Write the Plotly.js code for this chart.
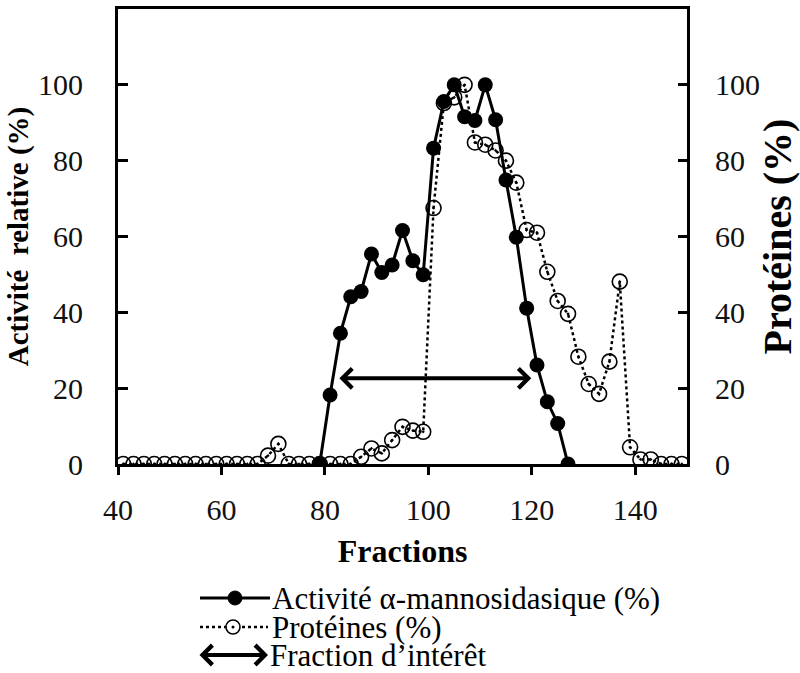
<!DOCTYPE html>
<html><head><meta charset="utf-8">
<script src="https://cdn.plot.ly/plotly-3.0.1.min.js"></script>
<style>html,body{margin:0;padding:0;background:#fff}#chart{width:800px;height:673px}</style>
</head><body><div id="chart"></div>
<script>
// ---- data ----
const proteinFractions = [41,43,45,47,49,51,53,55,57,59,61,63,65,67,69,71,73,75,77,79,81,83,85,87,89,91,93,95,97,99,101,103,105,107,109,111,113,115,117,119,121,123,125,127,129,131,133,135,137,139,141,143,145,147,149];
const proteines = [0,0,0,0,0,0,0,0,0,0,0,0,0,0,2.2,5.3,0,0,0,0,0,0,0,1.9,4.1,2.8,6.3,9.8,8.8,8.5,67.5,95.2,96.7,100,84.8,84.2,82.7,80.0,74.2,61.7,61.0,50.7,43.0,39.6,28.3,21.1,18.5,27.0,48.1,4.4,1.2,1.2,0,0,0];
const activityFractions = [79,81,83,85,87,89,91,93,95,97,99,101,103,105,107,109,111,113,115,117,119,121,123,125,127];
const activite = [0,18.2,34.5,44.1,45.5,55.4,50.5,52.5,61.6,53.6,49.9,83.3,95.6,100,91.6,90.6,100,90.8,74.9,59.8,41.1,26.1,16.4,10.7,0];
const xTicks = [40,60,80,100,120,140];
const yTicks = [0,20,40,60,80,100];
const interestRange = [82.5, 119.9];
const interestLevel = 22.6;
const labels = {
  x: 'Fractions',
  yLeft: 'Activité\u00a0 relative (%)',
  yRight: 'Protéines (%)',
  activity: 'Activité α-mannosidasique (%)',
  protein: 'Protéines (%)',
  interest: 'Fraction d\u2019intérêt'
};

// ---- layout helpers ----
const W = 800, H = 673;
const M = {l: 118, r: 113, t: 9, b: 209};
const PW = W - M.l - M.r, PH = H - M.t - M.b;
const px = x => (x - M.l) / PW;
const py = y => (M.t + PH - y) / PH;
const serif = 'Liberation Serif';

const traces = [
  {
    x: activityFractions, y: activite, name: labels.activity,
    type: 'scatter', mode: 'lines+markers', xaxis: 'x', yaxis: 'y',
    line: {color: '#000', width: 3},
    marker: {color: '#000', size: 15, symbol: 'circle'}
  },
  {
    x: proteinFractions, y: proteines, name: labels.protein,
    type: 'scatter', mode: 'lines+markers', xaxis: 'x', yaxis: 'y2',
    line: {color: '#000', width: 2.5, dash: 'dot'},
    marker: {color: '#000', size: 15, symbol: 'circle-open-dot', line: {color: '#000', width: 1.6}}
  }
];

const tickFont = {family: serif, size: 30, color: '#111'};

const legendY = [598, 627, 655];
const shapes = [
  {type: 'line', xref: 'paper', yref: 'paper', x0: px(200), x1: px(270), y0: py(legendY[0]), y1: py(legendY[0]), line: {color: '#000', width: 3}},
  {type: 'circle', xref: 'paper', yref: 'paper', xsizemode: 'pixel', ysizemode: 'pixel', xanchor: px(235), yanchor: py(legendY[0]), x0: -7, x1: 7, y0: -7, y1: 7, fillcolor: '#000', line: {color: '#000', width: 1}},
  {type: 'line', xref: 'paper', yref: 'paper', x0: px(200), x1: px(268), y0: py(legendY[1]), y1: py(legendY[1]), line: {color: '#000', width: 2.5, dash: 'dot'}},
  {type: 'circle', xref: 'paper', yref: 'paper', xsizemode: 'pixel', ysizemode: 'pixel', xanchor: px(233), yanchor: py(legendY[1]), x0: -7, x1: 7, y0: -7, y1: 7, fillcolor: '#fff', line: {color: '#000', width: 1.6}},
  {type: 'circle', xref: 'paper', yref: 'paper', xsizemode: 'pixel', ysizemode: 'pixel', xanchor: px(233), yanchor: py(legendY[1]), x0: -1.5, x1: 1.5, y0: -1.5, y1: 1.5, fillcolor: '#000', line: {color: '#000', width: 0}}
];

const legendFont = {family: serif, size: 31, color: '#000'};
const annotations = [
  {xref: 'x', yref: 'y', axref: 'x', ayref: 'y', x: interestRange[1], y: interestLevel, ax: interestRange[0], ay: interestLevel,
   text: '', showarrow: true, arrowside: 'end+start', arrowhead: 4, startarrowhead: 4, arrowwidth: 4, arrowsize: 0.95, startarrowsize: 0.95, arrowcolor: '#000', standoff: 0, startstandoff: 0},
  {xref: 'paper', yref: 'paper', x: px(268), y: py(legendY[2]), ax: -70, ay: 0, text: '', showarrow: true,
   arrowside: 'end+start', arrowhead: 4, startarrowhead: 4, arrowwidth: 4, arrowsize: 0.95, startarrowsize: 0.95, arrowcolor: '#000', standoff: 0, startstandoff: 0},
  {xref: 'paper', yref: 'paper', x: px(270), y: py(legendY[0]), xanchor: 'left', yanchor: 'middle', text: labels.activity, showarrow: false, font: legendFont},
  {xref: 'paper', yref: 'paper', x: px(270), y: py(legendY[1]), xanchor: 'left', yanchor: 'middle', text: labels.protein, showarrow: false, font: legendFont},
  {xref: 'paper', yref: 'paper', x: px(268), y: py(legendY[2]), xanchor: 'left', yanchor: 'middle', text: labels.interest, showarrow: false, font: legendFont}
];

const layout = {
  width: W, height: H,
  margin: M,
  paper_bgcolor: '#fff', plot_bgcolor: '#fff',
  showlegend: false,
  font: {family: serif, color: '#000'},
  xaxis: {
    range: [40, 150], tickvals: xTicks, ticktext: xTicks.map(String),
    ticks: 'outside', ticklen: 8, tickwidth: 3, tickcolor: '#000',
    showline: true, linewidth: 3, linecolor: '#000', mirror: true,
    showgrid: false, zeroline: false, automargin: false,
    tickfont: tickFont, ticklabelstandoff: 9,
    title: {text: labels.x, font: {family: serif, size: 32, color: '#000', weight: 'bold'}, standoff: 15}
  },
  xaxis2: {
    range: [40, 150], tickvals: xTicks, overlaying: 'x', anchor: 'y', side: 'bottom',
    ticks: 'inside', ticklen: 8, tickwidth: 3, tickcolor: '#000',
    showticklabels: false, showline: false, showgrid: false, zeroline: false
  },
  yaxis: {
    range: [0, 120], tickvals: yTicks, ticktext: yTicks.map(String),
    ticks: 'inside', ticklen: 10, tickwidth: 3, tickcolor: '#000',
    showline: true, linewidth: 3, linecolor: '#000',
    showgrid: false, zeroline: false, automargin: false,
    tickfont: tickFont, ticklabelstandoff: 26,
    title: {text: labels.yLeft, font: {family: serif, size: 29, color: '#000', weight: 'bold'}, standoff: 1}
  },
  yaxis2: {
    range: [0, 120], tickvals: yTicks, ticktext: yTicks.map(String),
    overlaying: 'y', side: 'right', anchor: 'x',
    ticks: 'inside', ticklen: 9, tickwidth: 3, tickcolor: '#000',
    showline: true, linewidth: 3, linecolor: '#000',
    showgrid: false, zeroline: false, automargin: false,
    tickfont: tickFont, ticklabelstandoff: 19,
    title: {text: labels.yRight, font: {family: serif, size: 40, color: '#000', weight: 'bold'}, standoff: 4}
  },
  shapes: shapes,
  annotations: annotations
};

Plotly.newPlot('chart', traces, layout, {displayModeBar: false, staticPlot: true});
</script>
</body></html>
